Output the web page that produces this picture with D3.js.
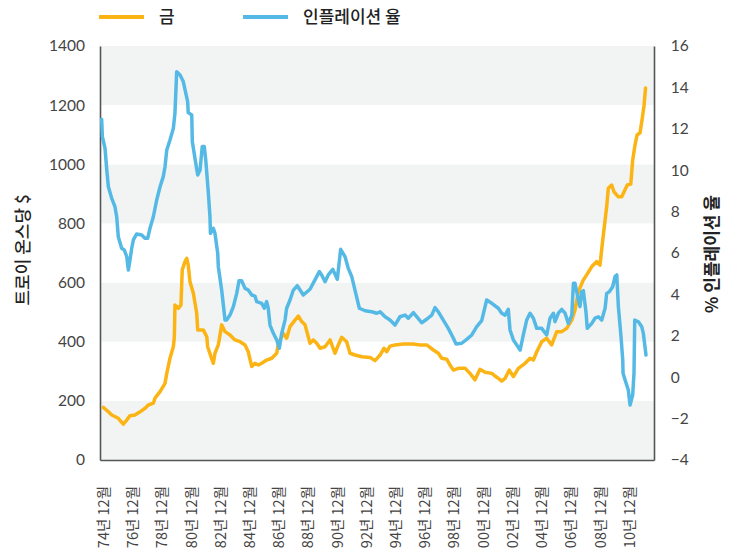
<!DOCTYPE html>
<html>
<head>
<meta charset="utf-8">
<script src="https://cdn.jsdelivr.net/npm/d3@7"></script>
<style>
  html, body { margin: 0; padding: 0; background: #fff; }
  svg { display: block; }
  text { font-family: "Noto Sans CJK KR", "Noto Sans", sans-serif; }
</style>
</head>
<body>
<svg id="chart" width="738" height="556"></svg>
<script>
// Gold price (USD per troy ounce), [decimal year, value]
const goldSeries = [
  [1974.90,178],[1975.25,163],[1975.48,152],[1975.93,141],[1976.27,121],[1976.51,135],
  [1976.73,150],[1977.07,152],[1977.42,163],[1977.76,175],[1977.99,186],[1978.33,192],
  [1978.44,209],[1978.79,231],[1979.13,259],[1979.25,293],[1979.47,344],[1979.70,383],
  [1979.77,417],[1979.81,524],[1980.04,513],[1980.22,524],[1980.31,643],[1980.50,671],
  [1980.62,682],[1980.72,659],[1980.84,603],[1981.07,564],[1981.30,496],[1981.37,440],
  [1981.75,440],[1981.99,417],[1982.05,383],[1982.28,349],[1982.44,327],[1982.55,361],
  [1982.78,389],[1983.01,457],[1983.24,434],[1983.58,423],[1983.92,406],[1984.27,400],
  [1984.61,389],[1984.83,366],[1985.07,316],[1985.29,327],[1985.52,321],[1985.75,327],
  [1986.09,338],[1986.44,344],[1986.78,361],[1986.89,395],[1987.23,428],[1987.46,412],
  [1987.69,451],[1988.03,473],[1988.26,487],[1988.49,468],[1988.72,457],[1988.94,417],
  [1989.06,395],[1989.29,406],[1989.52,395],[1989.75,378],[1990.09,383],[1990.43,406],
  [1990.77,361],[1991.00,389],[1991.23,415],[1991.57,400],[1991.80,361],[1992.14,355],
  [1992.60,349],[1993.17,347],[1993.51,336],[1993.86,355],[1994.13,378],[1994.31,366],
  [1994.54,385],[1994.88,389],[1995.45,392],[1996.14,392],[1996.60,389],[1997.05,389],
  [1997.51,372],[1997.85,361],[1998.08,344],[1998.42,341],[1998.65,321],[1998.88,304],
  [1999.22,310],[1999.68,310],[2000.02,293],[2000.36,271],[2000.70,307],[2001.05,297],
  [2001.51,293],[2001.73,284],[2001.96,276],[2002.19,267],[2002.42,276],[2002.71,304],
  [2002.99,282],[2003.33,310],[2003.79,327],[2004.13,344],[2004.36,338],[2004.59,366],
  [2004.93,400],[2005.27,412],[2005.61,389],[2005.96,434],[2006.30,434],[2006.64,445],
  [2006.99,473],[2007.21,507],[2007.44,569],[2007.78,609],[2008.01,626],[2008.36,654],
  [2008.70,671],[2008.92,659],[2009.11,744],[2009.38,857],[2009.49,919],[2009.72,930],
  [2009.88,907],[2010.18,890],[2010.41,890],[2010.57,907],[2010.79,930],[2011.03,933],
  [2011.16,1014],[2011.32,1065],[2011.46,1099],[2011.66,1106],[2011.80,1150],[2011.94,1200],
  [2012.04,1258]
];

// Annual inflation rate (%), [decimal year, value]
const inflationSeries = [
  [1974.79,12.46],[1974.84,11.62],[1975.02,11.06],[1975.14,10.01],[1975.25,9.20],[1975.48,8.64],
  [1975.70,8.24],[1975.82,7.75],[1975.93,6.79],[1976.16,6.23],[1976.34,6.15],[1976.51,5.82],
  [1976.62,5.18],[1976.73,5.66],[1976.85,6.23],[1976.96,6.63],[1977.19,6.92],[1977.53,6.87],
  [1977.76,6.71],[1977.94,6.71],[1978.10,7.19],[1978.33,7.75],[1978.56,8.56],[1978.79,9.20],
  [1979.01,9.69],[1979.13,10.17],[1979.25,10.98],[1979.47,11.46],[1979.70,12.02],[1979.81,12.75],
  [1979.93,14.76],[1980.16,14.60],[1980.38,14.28],[1980.68,13.31],[1980.72,12.78],[1980.96,12.67],
  [1981.00,11.38],[1981.18,10.58],[1981.37,9.77],[1981.53,10.01],[1981.68,11.14],[1981.82,11.14],
  [1981.92,10.49],[1982.10,8.88],[1982.21,7.75],[1982.24,6.95],[1982.44,7.19],[1982.55,6.95],
  [1982.74,5.99],[1982.78,5.34],[1983.01,4.21],[1983.24,2.76],[1983.35,2.76],[1983.58,3.00],
  [1983.81,3.41],[1984.04,4.05],[1984.20,4.66],[1984.38,4.66],[1984.61,4.29],[1984.83,4.21],
  [1985.07,3.97],[1985.29,3.92],[1985.41,3.65],[1985.75,3.57],[1985.93,3.33],[1986.09,3.65],
  [1986.20,3.33],[1986.32,2.52],[1986.55,2.12],[1986.78,1.80],[1986.96,1.40],[1987.12,2.12],
  [1987.35,2.76],[1987.46,3.33],[1987.69,3.73],[1987.92,4.21],[1988.19,4.42],[1988.60,3.97],
  [1989.06,4.25],[1989.40,4.70],[1989.70,5.10],[1989.86,4.94],[1990.09,4.61],[1990.31,4.94],
  [1990.62,5.21],[1990.93,4.73],[1991.16,6.18],[1991.46,5.82],[1991.68,5.26],[1991.92,4.86],
  [1992.14,4.21],[1992.44,3.33],[1992.83,3.21],[1993.29,3.16],[1993.63,3.09],[1993.86,3.16],
  [1994.20,2.92],[1994.54,2.76],[1994.88,2.52],[1995.22,2.92],[1995.57,3.00],[1995.79,2.85],
  [1996.14,3.12],[1996.41,2.89],[1996.71,2.63],[1997.05,2.80],[1997.40,3.00],[1997.62,3.36],
  [1997.85,3.16],[1998.19,2.76],[1998.53,2.36],[1998.88,1.88],[1999.06,1.60],[1999.45,1.64],
  [1999.79,1.83],[2000.14,2.04],[2000.48,2.44],[2000.82,2.73],[2001.16,3.73],[2001.51,3.57],
  [2001.96,3.33],[2002.19,3.09],[2002.42,3.00],[2002.64,3.28],[2002.76,2.28],[2002.99,1.80],
  [2003.22,1.56],[2003.45,1.31],[2003.67,2.04],[2003.90,2.76],[2004.13,3.09],[2004.36,2.85],
  [2004.59,2.36],[2004.93,2.36],[2005.27,2.04],[2005.50,2.85],[2005.73,3.09],[2005.84,2.68],
  [2006.07,3.09],[2006.30,3.28],[2006.53,3.09],[2006.75,2.60],[2006.99,3.00],[2007.10,4.54],
  [2007.21,4.54],[2007.44,3.73],[2007.55,3.41],[2007.67,4.13],[2007.78,4.18],[2007.96,3.16],
  [2008.05,2.36],[2008.36,2.60],[2008.58,2.85],[2008.81,2.92],[2009.04,2.76],[2009.27,3.33],
  [2009.38,4.05],[2009.56,4.13],[2009.79,4.37],[2009.95,4.86],[2010.07,4.94],[2010.18,3.41],
  [2010.36,1.96],[2010.48,0.83],[2010.50,0.19],[2010.64,-0.14],[2010.86,-0.62],[2010.98,-1.34],
  [2011.16,-0.86],[2011.25,0.19],[2011.30,2.76],[2011.55,2.68],[2011.78,2.44],[2011.89,2.12],
  [2012.07,1.07]
];

// X-axis labels: December of every other year
const tickYears = [74,76,78,80,82,84,86,88,90,92,94,96,98,0,2,4,6,8,10];
const tickLabels = tickYears.map(y => String(y).padStart(2, "0") + "년 12월");
const tickPositions = tickYears.map(y => (y >= 74 ? 1900 + y : 2000 + y) + 11 / 12);

const goldTicks = [0, 200, 400, 600, 800, 1000, 1200, 1400];
const inflationTicks = [-4, -2, 0, 2, 4, 6, 8, 10, 12, 14, 16];

const seriesNames = ["금", "인플레이션 율"];
const colors = { gold: "#fbb414", inflation: "#55b9e6" };

const svg = d3.select("#chart");
const plot = { left: 100, right: 654, top: 46, bottom: 460 };

const x = d3.scaleLinear().domain([1974.677, 2012.62]).range([plot.left, plot.right]);
const yGold = d3.scaleLinear().domain([0, 1400]).range([plot.bottom, plot.top]);
const yInf = d3.scaleLinear().domain([-4, 16]).range([plot.bottom, plot.top]);

// Alternating background bands
const bands = d3.range(0, 1400, 200);
svg.append("g").selectAll("rect").data(bands).join("rect")
  .attr("x", plot.left)
  .attr("width", plot.right - plot.left)
  .attr("y", d => yGold(d + 200))
  .attr("height", d => yGold(d) - yGold(d + 200))
  .attr("fill", (d, i) => i % 2 === 0 ? "#f2f4f4" : "#ffffff");

// Left axis (gold)
const leftAxis = svg.append("g")
  .attr("transform", `translate(${plot.left},0)`)
  .call(d3.axisLeft(yGold).tickValues(goldTicks).tickFormat(d3.format("d"))
    .tickSize(0).tickPadding(15));
// Right axis (inflation)
const rightAxis = svg.append("g")
  .attr("transform", `translate(${plot.right},0)`)
  .call(d3.axisRight(yInf).tickValues(inflationTicks).tickFormat(d3.format("d"))
    .tickSize(0).tickPadding(19));
// Bottom axis
const bottomAxis = svg.append("g")
  .attr("transform", `translate(0,${plot.bottom})`)
  .call(d3.axisBottom(x).tickValues(tickPositions).tickSize(0)
    .tickFormat((d, i) => tickLabels[i]));

[leftAxis, rightAxis, bottomAxis].forEach(g => {
  g.select(".domain").attr("stroke", "#555").attr("stroke-width", 1.6);
});
[leftAxis, rightAxis].forEach(g => {
  g.selectAll("text")
    .attr("fill", "#444")
    .style("font-family", "Lato, 'Noto Sans', sans-serif")
    .style("font-size", "15.5px");
});
rightAxis.selectAll("text").attr("dx", "-0.15em");
bottomAxis.selectAll("text")
  .attr("fill", "#444")
  .style("font-size", "14.5px")
  .attr("text-anchor", "end")
  .attr("dy", "0.35em")
  .attr("transform", "translate(0,26) rotate(-90)")
  .attr("x", 0).attr("y", 0);

// Lines
const lineGold = d3.line().x(d => x(d[0])).y(d => yGold(d[1])).curve(d3.curveLinear);
const lineInf = d3.line().x(d => x(d[0])).y(d => yInf(d[1])).curve(d3.curveLinear);

svg.append("path").datum(goldSeries)
  .attr("d", lineGold)
  .attr("fill", "none").attr("stroke", colors.gold)
  .attr("stroke-width", 3.5).attr("stroke-linejoin", "round").attr("stroke-linecap", "round");

svg.append("path").datum(inflationSeries)
  .attr("d", lineInf)
  .attr("fill", "none").attr("stroke", colors.inflation)
  .attr("stroke-width", 3.5).attr("stroke-linejoin", "round").attr("stroke-linecap", "round");

// Axis titles
svg.append("text")
  .attr("transform", "translate(23,250) rotate(-90)")
  .attr("text-anchor", "middle")
  .attr("dy", "0.35em")
  .attr("fill", "#222")
  .style("font-size", "17px").style("font-weight", 500)
  .text("트로이 온스당 $");

svg.append("text")
  .attr("transform", "translate(712,254) rotate(-90)")
  .attr("text-anchor", "middle")
  .attr("dy", "0.35em")
  .attr("fill", "#222")
  .style("font-size", "17px").style("font-weight", 600)
  .text("% 인플레이션 율");

// Legend
const legendItems = [
  { name: seriesNames[0], color: colors.gold, x: 99 },
  { name: seriesNames[1], color: colors.inflation, x: 243 }
];
const legend = svg.append("g").selectAll("g").data(legendItems).join("g")
  .attr("transform", d => `translate(${d.x},17)`);
legend.append("line")
  .attr("x1", 0).attr("x2", 45).attr("y1", 0).attr("y2", 0)
  .attr("stroke", d => d.color).attr("stroke-width", 4);
legend.append("text")
  .attr("x", 60).attr("dy", "0.35em")
  .attr("fill", "#222")
  .style("font-size", "17px").style("font-weight", 500)
  .text(d => d.name);
</script>
</body>
</html>
